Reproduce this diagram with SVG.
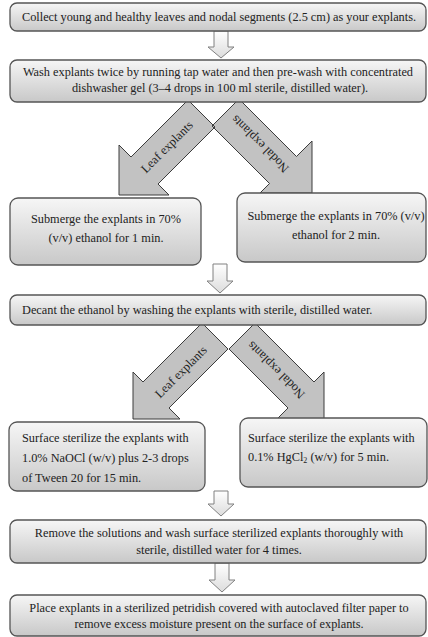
<svg xmlns="http://www.w3.org/2000/svg" width="428" height="637" viewBox="0 0 428 637">
<defs>
<linearGradient id="boxg" x1="0" y1="0" x2="0" y2="1">
<stop offset="0" stop-color="#f6f6f6"/>
<stop offset="1" stop-color="#c8c8c8"/>
</linearGradient>
<linearGradient id="arrg" x1="0" y1="0" x2="0" y2="1">
<stop offset="0" stop-color="#ffffff"/>
<stop offset="1" stop-color="#dcdcdc"/>
</linearGradient>
<style>
.box{fill:url(#boxg);stroke:#555555;stroke-width:1.3}
.t{font-family:"Liberation Serif","Times New Roman",serif;font-size:12.3px;fill:#222222}
.c{text-anchor:middle}
.down{fill:url(#arrg);stroke:#808080;stroke-width:1}
.dfill{fill:#c2c2c2;stroke:none}
.dline{fill:none;stroke:#3c3c3c;stroke-width:1}
.al{font-family:"Liberation Serif","Times New Roman",serif;font-size:12.5px;fill:#222222;text-anchor:middle;dominant-baseline:central}
</style>
</defs>
<g id="connectors">
<polygon class="down" points="214,31 228,31 228,47 234,47 221,58 208,47 214,47"/>
<polygon class="down" points="213,264 227,264 227,281 233,281 220,293 207,281 213,281"/>
<polygon class="down" points="214,491 228,491 228,504 234,504 221,516 208,504 214,504"/>
<polygon class="down" points="215,563 229,563 229,580 235,580 222,592 209,580 215,580"/>
<polygon class="dfill" points="188,100 215,127 158,184 169,195 119,195 119,145 131,157"/>
<polygon class="dfill" points="239,99 296.5,156.5 312,141 312,193 260,193 269.5,183.5 212,126"/>
<polygon class="dline" points="188,100 215,127 158,184 169,195 119,195 119,145 131,157"/>
<polygon class="dline" points="239,99 296.5,156.5 312,141 312,193 260,193 269.5,183.5 212,126"/>
<polygon class="dfill" points="202,323 228,349 169,408 180,419 133,419 133,372 143,382"/>
<polygon class="dfill" points="255,323 229,349 288,408 277,419 324,419 324,372 314,382"/>
<polygon class="dline" points="202,323 228,349 169,408 180,419 133,419 133,372 143,382"/>
<polygon class="dline" points="255,323 229,349 288,408 277,419 324,419 324,372 314,382"/>
<text class="al" transform="translate(167,147) rotate(-45)">Leaf explants</text>
<text class="al" transform="translate(260,144) rotate(225)">Nodal explants</text>
<text class="al" transform="translate(181,372) rotate(-45)">Leaf explants</text>
<text class="al" transform="translate(276,370) rotate(225)">Nodal explants</text>
</g>
<g id="n1">
<rect class="box" x="10" y="3" width="416" height="28" rx="7"/>
<text class="t c" x="219" y="21">Collect young and healthy leaves and nodal segments (2.5 cm) as your explants.</text>
</g>
<g id="n2">
<rect class="box" x="10" y="60" width="416" height="42" rx="7"/>
<text class="t c" x="218" y="76">Wash explants twice by running tap water and then pre-wash with concentrated</text>
<text class="t c" x="220" y="92">dishwasher gel (3–4 drops in 100 ml sterile, distilled water).</text>
</g>
<g id="n3">
<rect class="box" x="10" y="198" width="191" height="67" rx="8"/>
<text class="t c" x="106" y="223">Submerge the explants in 70%</text>
<text class="t c" x="106" y="242">(v/v) ethanol for 1 min.</text>
</g>
<g id="n4">
<rect class="box" x="237" y="193" width="189" height="69" rx="8"/>
<text class="t c" x="336" y="220">Submerge the explants in 70% (v/v)</text>
<text class="t c" x="336" y="239">ethanol for 2 min.</text>
</g>
<g id="n5">
<rect class="box" x="10" y="295" width="416" height="30" rx="7"/>
<text class="t" x="22" y="314">Decant the ethanol by washing the explants with sterile, distilled water.</text>
</g>
<g id="n6">
<rect class="box" x="9" y="422" width="196" height="69" rx="8"/>
<text class="t" x="22" y="442">Surface sterilize the explants with</text>
<text class="t" x="22" y="462">1.0% NaOCl (w/v) plus 2-3 drops</text>
<text class="t" x="22" y="482">of Tween 20 for 15 min.</text>
</g>
<g id="n7">
<rect class="box" x="240" y="418" width="187" height="69" rx="8"/>
<text class="t" x="248" y="442">Surface sterilize the explants with</text>
<text class="t" x="248" y="461">0.1% HgCl<tspan font-size="8" dy="2">2</tspan><tspan dy="-2"> (w/v) for 5 min.</tspan></text>
</g>
<g id="n8">
<rect class="box" x="10" y="520" width="416" height="43" rx="7"/>
<text class="t c" x="219" y="537">Remove the solutions and wash surface sterilized explants thoroughly with</text>
<text class="t c" x="219" y="554">sterile, distilled water for 4 times.</text>
</g>
<g id="n9">
<rect class="box" x="10" y="595" width="416" height="41" rx="7"/>
<text class="t c" x="219" y="612">Place explants in a sterilized petridish covered with autoclaved filter paper to</text>
<text class="t c" x="219" y="628">remove excess moisture present on the surface of explants.</text>
</g>
</svg>
